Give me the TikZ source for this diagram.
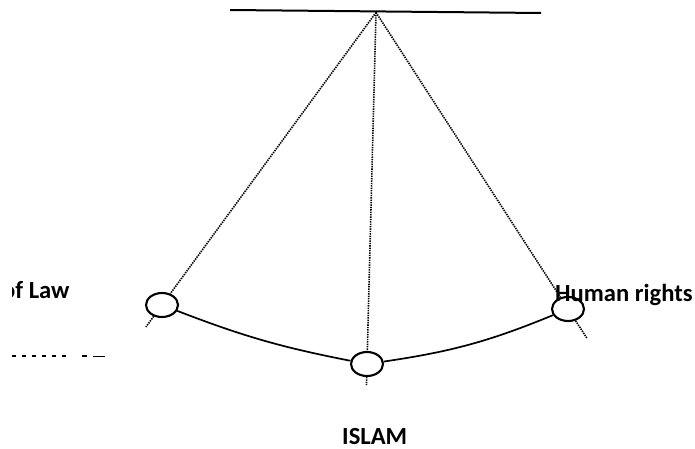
\documentclass[tikz,border=0pt]{standalone}
\usepackage{fontspec}
\setmainfont{Carlito}
\usetikzlibrary{shapes.geometric,calc}
\tikzset{
  bob/.style={ellipse,draw,line width=2.1pt,minimum width=32pt,minimum height=24pt,inner sep=0pt},
  stringline/.style={line width=1.6pt,dash pattern=on 1.4pt off 1.0pt},
  arcline/.style={line width=1.7pt},
  bar/.style={line width=2pt},
  lbl/.style={font=\bfseries\fontsize{24.6}{28}\selectfont,inner sep=0pt,anchor=base west},
  shortdash/.style={line width=1.6pt,dash pattern=on 3.5pt off 6.5pt}
}
\begin{document}
\begin{tikzpicture}[x=1pt,y=-1pt]
\useasboundingbox (0,0) rectangle (695,449);
\fill[white] (0,0) rectangle (695,449);
% top bar
\coordinate (barL) at (230,10);
\coordinate (barR) at (541,13);
\coordinate (pivot) at (376,12.5);
\draw[bar] (barL) -- (barR);
% bobs
\node[bob] (L) at (162,305) {};
\node[bob] (M) at (367,364) {};
\node[bob] (R) at (568,309) {};
% strings
\draw[stringline] (pivot) -- (L);
\draw[stringline] (pivot) -- (M);
\draw[stringline] (pivot) -- (R);
% stubs below the bobs
\coordinate (Ls) at ($(pivot)!1.075!(L.center)$);
\coordinate (Ms) at ($(pivot)!1.06!(M.center)$);
\coordinate (Rs) at ($(pivot)!1.10!(R.center)$);
\draw[stringline] (L) -- (Ls);
\draw[stringline] (M) -- (Ms);
\draw[stringline] (R) -- (Rs);
% lower arcs
\draw[arcline] (L) to[bend right=5] (M);
\draw[arcline] (M) to[bend right=7] (R);
% labels
\begin{scope}
\clip (12,250) rectangle (200,320);
\node[lbl] (law) at (2,298) {of Law};
\end{scope}
\node[lbl] (hr) at (555,301) {Human rights};
\node[lbl] (islam) at (342,444) {ISLAM};
% dashed line on the left
\coordinate (d1a) at (12,356);
\coordinate (d1b) at (70,356);
\coordinate (d2a) at (82,356);
\coordinate (d2b) at (87,356);
\coordinate (d3a) at (93,356.5);
\coordinate (d3b) at (105,356.5);
\draw[shortdash] (d1a) -- (d1b);
\draw[line width=1.6pt] (d2a) -- (d2b);
\draw[line width=1.6pt] (d3a) -- (d3b);
\end{tikzpicture}
\end{document}
